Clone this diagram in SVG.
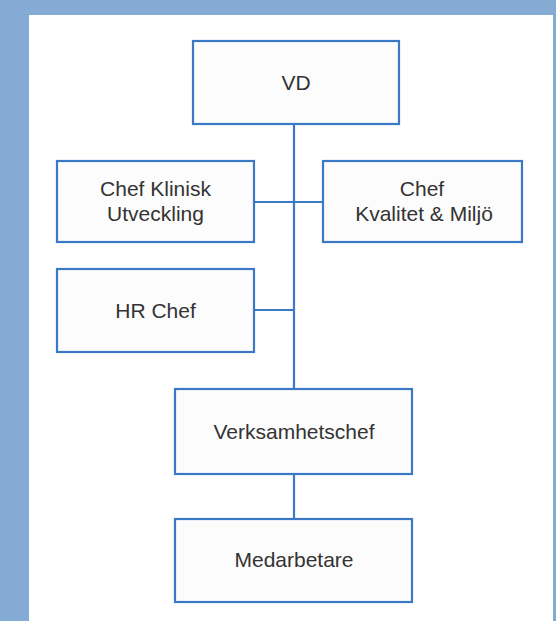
<svg xmlns="http://www.w3.org/2000/svg" width="556" height="621" viewBox="0 0 556 621">
<style>
.box{fill:#fcfcfc;stroke:#3b78c6;stroke-width:2.2}
.lbl{font-family:"Liberation Sans",Arial,sans-serif;font-size:21px;fill:#333;text-anchor:middle}
.conn line{stroke:#3b78c6;stroke-width:2.2}
</style>
<rect x="0" y="0" width="556" height="621" fill="#84abd3"/>
<rect x="29" y="15" width="524" height="606" fill="#ffffff"/>
<g class="conn" id="connectors">
<line x1="294" y1="124" x2="294" y2="389"/>
<line x1="254" y1="202" x2="323" y2="202"/>
<line x1="254" y1="310" x2="294" y2="310"/>
<line x1="294" y1="474" x2="294" y2="519"/>
</g>
<g id="vd"><rect class="box" x="193" y="41" width="206" height="83"/><text class="lbl" x="296" y="89.5">VD</text></g>
<g id="klinisk"><rect class="box" x="57" y="161" width="197" height="81"/><text class="lbl" x="155.5" y="196">Chef Klinisk</text><text class="lbl" x="155.5" y="221">Utveckling</text></g>
<g id="kvalitet"><rect class="box" x="323" y="161" width="199" height="81"/><text class="lbl" x="422" y="196">Chef</text><text class="lbl" x="424" y="221">Kvalitet &amp; Miljö</text></g>
<g id="hr"><rect class="box" x="57" y="269" width="197" height="83"/><text class="lbl" x="155.5" y="318">HR Chef</text></g>
<g id="verksamhet"><rect class="box" x="175" y="389" width="237" height="85"/><text class="lbl" x="294" y="438.5">Verksamhetschef</text></g>
<g id="medarbetare"><rect class="box" x="175" y="519" width="237" height="83"/><text class="lbl" x="294" y="567">Medarbetare</text></g>
</svg>
